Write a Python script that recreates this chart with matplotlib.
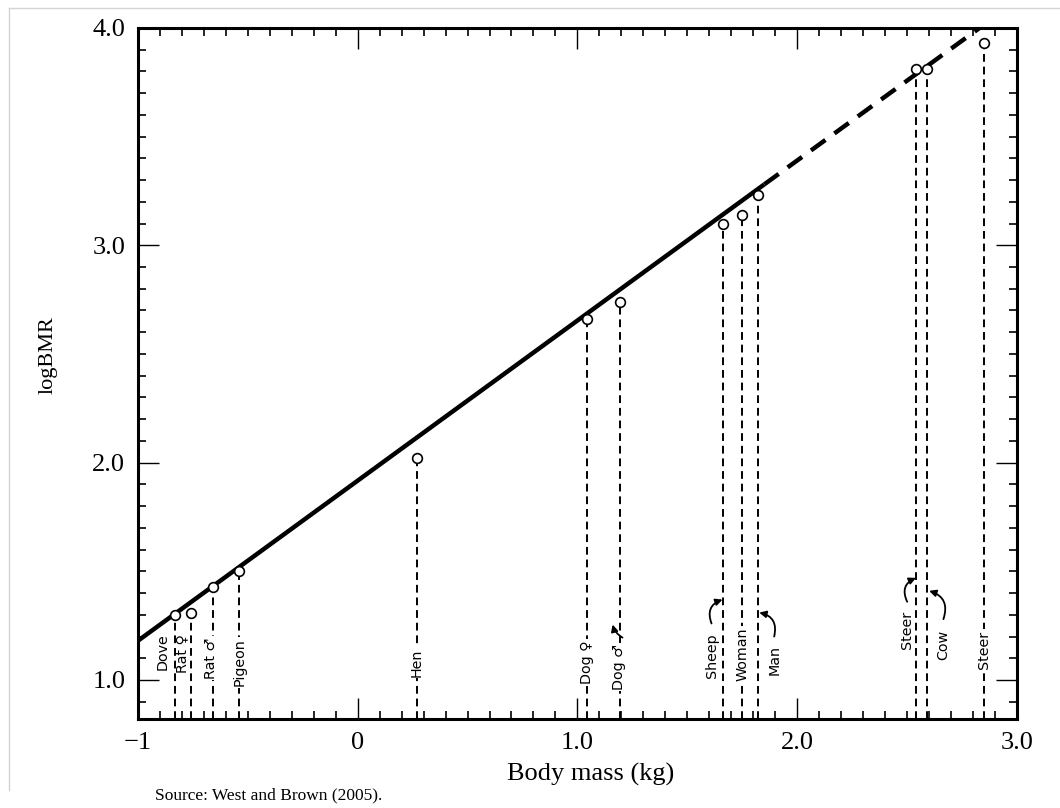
import matplotlib
matplotlib.use('Agg')
from matplotlib import pyplot as plt
from matplotlib.lines import Line2D
from matplotlib.ticker import MultipleLocator

# data (log10 body mass, log10 BMR)
animals = ['Dove', 'Rat ♀', 'Rat ♂', 'Pigeon', 'Hen', 'Dog ♀', 'Dog ♂',
           'Sheep', 'Woman', 'Man', 'Steer', 'Cow', 'Steer']
log_mass = [-0.83, -0.76, -0.66, -0.54, 0.27, 1.045, 1.195,
            1.66, 1.75, 1.82, 2.54, 2.59, 2.85]
log_bmr = [1.30, 1.31, 1.43, 1.50, 2.02, 2.66, 2.74,
           3.10, 3.14, 3.23, 3.81, 3.81, 3.93]

# fitted line: solid part and dashed extrapolation
fit_solid_x = [-1.0, 1.85]
fit_solid_y = [1.18, 3.28]
fit_dash_x = [1.85, 2.83]
fit_dash_y = [3.28, 4.0]

x_ticks = [-1, 0, 1, 2, 3]
x_ticklabels = ['\u22121', '0', '1.0', '2.0', '3.0']
y_ticks = [1, 2, 3, 4]
y_ticklabels = ['1.0', '2.0', '3.0', '4.0']

# label placement: (x, y, white box over the dashed line, arrow (tail, head, rad) or None)
label_pos = [
    (-0.888, 1.13, False, None),
    (-0.797, 1.12, False, None),
    (-0.668, 1.10, True, None),
    (-0.536, 1.08, True, None),
    (0.27, 1.08, True, None),
    (1.045, 1.08, True, None),
    (1.19, 1.06, True, ((1.205, 1.195), (1.16, 1.255), -0.2)),
    (1.61, 1.11, False, ((1.61, 1.26), (1.66, 1.37), -0.5)),
    (1.75, 1.12, True, None),
    (1.895, 1.09, False, ((1.895, 1.20), (1.827, 1.31), 0.5)),
    (2.50, 1.23, False, ((2.50, 1.36), (2.54, 1.47), -0.5)),
    (2.665, 1.16, False, ((2.665, 1.28), (2.60, 1.41), 0.5)),
    (2.85, 1.14, True, None),
]

ymin = 0.82

fig = plt.figure(figsize=(10.6, 8.08), dpi=100)
ax = fig.add_axes([0.130, 0.110, 0.8295, 0.8555])

ax.plot(fit_solid_x, fit_solid_y, color='black', lw=3.2, solid_capstyle='butt', zorder=3)
ax.plot(fit_dash_x, fit_dash_y, color='black', lw=3.2, dashes=(4, 2.5), zorder=3)

for xm, yb in zip(log_mass, log_bmr):
    ax.plot([xm, xm], [ymin, yb], color='black', lw=1.4, dashes=(4, 2.5), zorder=2)

ax.plot(log_mass, log_bmr, 'o', ms=7, mfc='white', mec='black', mew=1.2, zorder=5)

for name, (lx, ly, boxed, arrow) in zip(animals, label_pos):
    kw = {}
    if boxed:
        kw['bbox'] = dict(facecolor='white', edgecolor='none', pad=1.0)
    ax.text(lx, ly, name, rotation=90, ha='center', va='center', fontsize=10.3,
            family='DejaVu Sans', zorder=4, **kw)
    if arrow is not None:
        tail, head, rad = arrow
        ax.annotate('', xy=head, xytext=tail, zorder=6,
                    arrowprops=dict(arrowstyle='-|>', color='black', lw=1.3,
                                    mutation_scale=10, shrinkA=0, shrinkB=0,
                                    connectionstyle='arc3,rad=%.1f' % rad))

ax.set_xlim(-1, 3)
ax.set_ylim(ymin, 4.0)
ax.set_xticks(x_ticks)
ax.set_xticklabels(x_ticklabels)
ax.set_yticks(y_ticks)
ax.set_yticklabels(y_ticklabels)
ax.xaxis.set_minor_locator(MultipleLocator(0.1))
ax.yaxis.set_minor_locator(MultipleLocator(0.1))
ax.tick_params(which='both', direction='in', top=True, right=True, color='black')
ax.tick_params(which='major', length=15, width=1.0, labelsize=19, pad=9)
ax.tick_params(which='minor', length=6, width=1.2)
for lab in ax.get_xticklabels() + ax.get_yticklabels():
    lab.set_family('Liberation Serif')
for sp in ax.spines.values():
    sp.set_linewidth(2.2)

fig.text(0.045, 0.56, 'logBMR', rotation=90, ha='center', va='center',
         fontsize=16, family='Liberation Serif')
fig.text(0.557, 0.041, 'Body mass (kg)', ha='center', va='center',
         fontsize=19, family='Liberation Serif')
fig.text(0.146, 0.016, 'Source: West and Brown (2005).', ha='left', va='center',
         fontsize=12.5, family='Liberation Serif')

# faint frame of the original page
fig.add_artist(Line2D([0.0085, 1.0], [0.990, 0.990], transform=fig.transFigure,
                      color='#d4d4d4', lw=1))
fig.add_artist(Line2D([0.0085, 0.0085], [0.990, 0.022], transform=fig.transFigure,
                      color='#d4d4d4', lw=1))

fig.savefig('out.png', dpi=100)
